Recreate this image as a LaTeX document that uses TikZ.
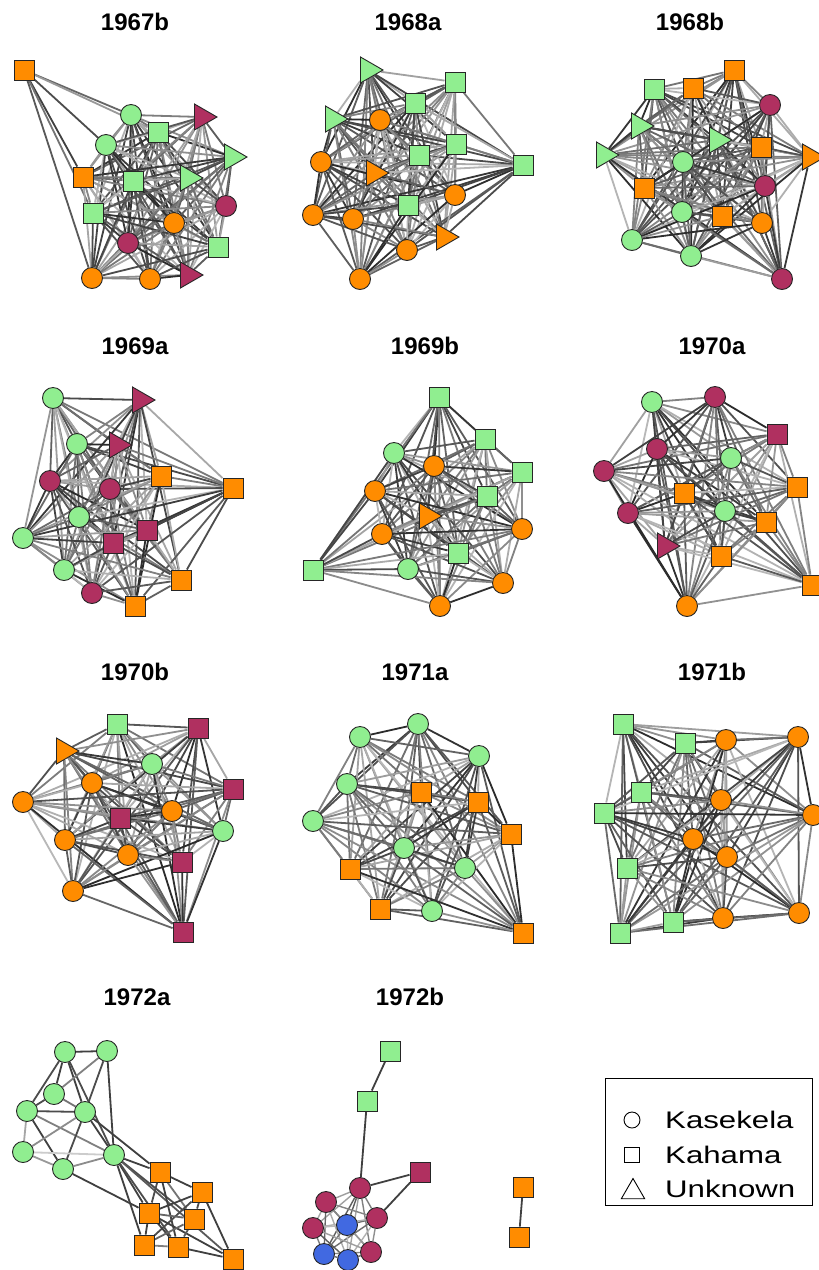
\documentclass[tikz,border=0pt]{standalone}
\usepackage{fontspec}
\setmainfont{Liberation Sans}
\usetikzlibrary{shapes.geometric}
\definecolor{gC}{HTML}{90EE90}
\definecolor{oC}{HTML}{FF8C00}
\definecolor{mC}{HTML}{B03060}
\definecolor{bC}{HTML}{4169E1}
\pgfdeclarelayer{bg}
\pgfsetlayers{bg,main}
\newcommand\netall[4]{%
  \pgfmathtruncatemacro\nlast{#3-1}%
  \foreach \i in {#2,...,\nlast}{%
    \pgfmathtruncatemacro\js{\i+1}%
    \foreach \j in {\js,...,#3}{%
      \pgfmathtruncatemacro\g{mod(\i*37+\j*53+#4*17,56)+28}%
      \draw[lnk,draw=black!\g] (#1\i) -- (#1\j);
    }}}
\tikzset{
  nd/.style={draw=black!85, line width=0.9pt, inner sep=0pt},
  cir/.style={nd, circle, minimum size=21pt},
  sqr/.style={nd, rectangle, minimum size=20pt},
  tri/.style={nd, regular polygon, regular polygon sides=3, minimum size=30pt, shape border rotate=-90},
  gc/.style={cir, fill=gC}, gs/.style={sqr, fill=gC}, gt/.style={tri, fill=gC},
  oc/.style={cir, fill=oC}, os/.style={sqr, fill=oC}, ot/.style={tri, fill=oC},
  mc/.style={cir, fill=mC}, ms/.style={sqr, fill=mC}, mt/.style={tri, fill=mC},
  bc/.style={cir, fill=bC},
  lnk/.style={line width=1.8pt},
  ttl/.style={font=\bfseries\fontsize{24}{28}\selectfont, inner sep=0pt},
  lgt/.style={font=\fontsize{24}{28}\selectfont, inner sep=0pt, anchor=west},
  lsym/.style={draw=black, line width=0.9pt, inner sep=0pt},
}
\begin{document}
\begin{tikzpicture}[x=1pt,y=-1pt]
\useasboundingbox (0,0) rectangle (819,1270);
% titles
\node[ttl] (t1) at (135,22) {1967b};
\node[ttl] (t2) at (408,22) {1968a};
\node[ttl] (t3) at (690,22) {1968b};
\node[ttl] (t4) at (135,346) {1969a};
\node[ttl] (t5) at (425,346) {1969b};
\node[ttl] (t6) at (712,346) {1970a};
\node[ttl] (t7) at (135,672) {1970b};
\node[ttl] (t8) at (415,672) {1971a};
\node[ttl] (t9) at (712,672) {1971b};
\node[ttl] (t10) at (137,997) {1972a};
\node[ttl] (t11) at (410,997) {1972b};
% panel 1
\node[os] (a1) at (24,70) {};
\node[gc] (a2) at (131,115) {};
\node[gs] (a3) at (158,132) {};
\node[mt] (a4) at (202,117) {};
\node[gc] (a5) at (106,145) {};
\node[gt] (a6) at (232,157) {};
\node[os] (a7) at (83,177) {};
\node[gs] (a8) at (133,181) {};
\node[gt] (a9) at (188,178) {};
\node[mc] (a10) at (226,206) {};
\node[gs] (a11) at (93,213) {};
\node[oc] (a12) at (174,223) {};
\node[mc] (a13) at (128,243) {};
\node[gs] (a14) at (218,247) {};
\node[oc] (a15) at (92,278) {};
\node[oc] (a16) at (150,279) {};
\node[mt] (a17) at (188,275) {};
% panel 2
\node[gt] (b1) at (368,70) {};
\node[gs] (b2) at (455,82) {};
\node[gs] (b3) at (415,103) {};
\node[gt] (b4) at (333,119) {};
\node[oc] (b5) at (380,120) {};
\node[oc] (b6) at (321,162) {};
\node[gs] (b7) at (419,155) {};
\node[gs] (b8) at (456,144) {};
\node[gs] (b9) at (523,165) {};
\node[ot] (b10) at (374,173) {};
\node[oc] (b11) at (455,195) {};
\node[oc] (b12) at (313,215) {};
\node[oc] (b13) at (353,219) {};
\node[gs] (b14) at (408,205) {};
\node[ot] (b15) at (444,237) {};
\node[oc] (b16) at (407,250) {};
\node[oc] (b17) at (360,279) {};
% panel 3
\node[os] (c1) at (734,70) {};
\node[gs] (c2) at (654,89) {};
\node[os] (c3) at (693,88) {};
\node[mc] (c4) at (770,105) {};
\node[gt] (c5) at (639,126) {};
\node[gt] (c6) at (604,155) {};
\node[gt] (c7) at (717,140) {};
\node[os] (c8) at (761,147) {};
\node[ot] (c9) at (810,157) {};
\node[gc] (c10) at (683,162) {};
\node[os] (c11) at (644,188) {};
\node[mc] (c12) at (765,186) {};
\node[gc] (c13) at (682,212) {};
\node[os] (c14) at (722,216) {};
\node[oc] (c15) at (762,223) {};
\node[gc] (c16) at (632,240) {};
\node[gc] (c17) at (691,256) {};
\node[mc] (c18) at (782,279) {};
% panel 4
\node[gc] (d1) at (53,398) {};
\node[mt] (d2) at (140,400) {};
\node[gc] (d3) at (77,444) {};
\node[mt] (d4) at (117,445) {};
\node[mc] (d5) at (50,481) {};
\node[mc] (d6) at (110,489) {};
\node[os] (d7) at (161,476) {};
\node[os] (d8) at (233,488) {};
\node[gc] (d9) at (79,517) {};
\node[ms] (d10) at (147,530) {};
\node[ms] (d11) at (113,543) {};
\node[gc] (d12) at (23,538) {};
\node[gc] (d13) at (64,570) {};
\node[os] (d14) at (181,580) {};
\node[mc] (d15) at (92,593) {};
\node[os] (d16) at (135,606) {};
% panel 5
\node[gs] (e1) at (439,397) {};
\node[gs] (e2) at (485,439) {};
\node[gc] (e3) at (394,453) {};
\node[oc] (e4) at (434,466) {};
\node[gs] (e5) at (522,472) {};
\node[oc] (e6) at (375,491) {};
\node[gs] (e7) at (487,496) {};
\node[ot] (e8) at (427,516) {};
\node[oc] (e9) at (382,534) {};
\node[oc] (e10) at (522,529) {};
\node[gs] (e11) at (458,553) {};
\node[gc] (e12) at (408,569) {};
\node[gs] (e13) at (313,570) {};
\node[oc] (e14) at (503,583) {};
\node[oc] (e15) at (440,606) {};
% panel 6
\node[gc] (f1) at (652,402) {};
\node[mc] (f2) at (715,397) {};
\node[ms] (f3) at (777,434) {};
\node[mc] (f4) at (657,449) {};
\node[gc] (f5) at (731,458) {};
\node[mc] (f6) at (604,471) {};
\node[os] (f7) at (684,493) {};
\node[os] (f8) at (797,487) {};
\node[mc] (f9) at (628,513) {};
\node[gc] (f10) at (725,511) {};
\node[os] (f11) at (766,522) {};
\node[mt] (f12) at (665,546) {};
\node[os] (f13) at (721,556) {};
\node[os] (f14) at (812,585) {};
\node[oc] (f15) at (687,606) {};
% panel 7
\node[gs] (g1) at (117,724) {};
\node[ms] (g2) at (198,728) {};
\node[ot] (g3) at (64,751) {};
\node[gc] (g4) at (152,764) {};
\node[oc] (g5) at (92,783) {};
\node[ms] (g6) at (233,789) {};
\node[oc] (g7) at (23,802) {};
\node[ms] (g8) at (120,818) {};
\node[oc] (g9) at (172,811) {};
\node[gc] (g10) at (223,831) {};
\node[oc] (g11) at (65,840) {};
\node[oc] (g12) at (128,855) {};
\node[ms] (g13) at (182,862) {};
\node[oc] (g14) at (73,891) {};
\node[ms] (g15) at (183,932) {};
% panel 8
\node[gc] (h1) at (418,724) {};
\node[gc] (h2) at (360,737) {};
\node[gc] (h3) at (479,756) {};
\node[gc] (h4) at (347,784) {};
\node[os] (h5) at (421,792) {};
\node[os] (h6) at (478,802) {};
\node[gc] (h7) at (313,821) {};
\node[os] (h8) at (511,834) {};
\node[gc] (h9) at (404,848) {};
\node[gc] (h10) at (465,868) {};
\node[os] (h11) at (350,869) {};
\node[os] (h12) at (380,909) {};
\node[gc] (h13) at (432,911) {};
\node[os] (h14) at (523,933) {};
% panel 9
\node[gs] (i1) at (623,724) {};
\node[gs] (i2) at (685,743) {};
\node[oc] (i3) at (726,740) {};
\node[oc] (i4) at (798,737) {};
\node[gs] (i5) at (641,792) {};
\node[oc] (i6) at (721,800) {};
\node[gs] (i7) at (604,813) {};
\node[oc] (i8) at (813,815) {};
\node[oc] (i9) at (693,839) {};
\node[oc] (i10) at (727,857) {};
\node[gs] (i11) at (627,868) {};
\node[oc] (i12) at (723,918) {};
\node[oc] (i13) at (799,913) {};
\node[gs] (i14) at (673,922) {};
\node[gs] (i15) at (620,933) {};
% panel 10
\node[gc] (j1) at (65,1052) {};
\node[gc] (j2) at (107,1051) {};
\node[gc] (j3) at (54,1094) {};
\node[gc] (j4) at (27,1111) {};
\node[gc] (j5) at (85,1112) {};
\node[gc] (j6) at (23,1152) {};
\node[gc] (j7) at (63,1169) {};
\node[gc] (j8) at (114,1155) {};
\node[os] (j9) at (160,1172) {};
\node[os] (j10) at (202,1192) {};
\node[os] (j11) at (149,1213) {};
\node[os] (j12) at (194,1219) {};
\node[os] (j13) at (144,1245) {};
\node[os] (j14) at (178,1247) {};
\node[os] (j15) at (233,1259) {};
% panel 11
\node[gs] (k1) at (390,1051) {};
\node[gs] (k2) at (367,1101) {};
\node[ms] (k3) at (420,1172) {};
\node[mc] (k4) at (360,1188) {};
\node[mc] (k5) at (326,1202) {};
\node[mc] (k6) at (377,1218) {};
\node[bc] (k7) at (347,1225) {};
\node[mc] (k8) at (313,1228) {};
\node[mc] (k9) at (371,1252) {};
\node[bc] (k10) at (324,1254) {};
\node[bc] (k11) at (348,1260) {};
\node[os] (k12) at (523,1187) {};
\node[os] (k13) at (519,1237) {};
% legend
\node[draw=black, line width=0.9pt, minimum width=207pt, minimum height=127pt, anchor=north west, inner sep=0pt] (leg) at (605,1078) {};
\node[lsym, circle, minimum size=16pt] (lc) at (632,1120) {};
\node[lsym, rectangle, minimum size=15pt] (ls) at (632,1155) {};
\node[lsym, regular polygon, regular polygon sides=3, minimum size=27pt] (lt) at (633,1192) {};
\node[lgt] (l1) at (665,1120) {\scalebox{1.3}[1]{Kasekela}};
\node[lgt] (l2) at (665,1155) {\scalebox{1.3}[1]{Kahama}};
\node[lgt] (l3) at (665,1189) {\scalebox{1.3}[1]{Unknown}};
% edges
\begin{pgfonlayer}{bg}
\fill[white] (0,0) rectangle (819,1270);
\foreach \t/\s in {2/60,3/40,5/70,7/75,11/55,15/65}{\draw[lnk,draw=black!\s] (a1) -- (a\t);}
\netall{a}{2}{17}{1}
\netall{b}{1}{17}{2}
\netall{c}{1}{18}{3}
\netall{d}{1}{16}{4}
\netall{e}{1}{15}{5}
\netall{f}{1}{15}{6}
\netall{g}{1}{15}{7}
\netall{h}{1}{14}{8}
\netall{i}{1}{15}{9}
\foreach \u/\v/\s in {1/2/75,1/3/75,1/4/70,1/5/75,1/8/70,2/3/50,2/5/70,2/8/75,3/4/70,3/5/55,4/5/70,4/6/35,4/7/75,4/8/50,5/6/45,5/7/70,5/8/75,6/7/40,6/8/20,7/8/45,8/9/75,8/11/75,8/12/70,8/13/75,8/14/70,8/15/65,5/9/75,7/11/75,9/10/75,9/11/70,9/12/55,9/14/75,10/11/75,10/12/70,10/13/70,10/15/75,11/12/60,11/13/75,11/14/75,11/15/75,12/13/60,12/14/65,13/14/50,14/15/75}{\draw[lnk,draw=black!\s] (j\u) -- (j\v);}
\foreach \u/\v in {1/2,2/4,3/4,3/6,12/13}{\draw[lnk,draw=black!75] (k\u) -- (k\v);}
\foreach \u in {4,...,10}{\pgfmathtruncatemacro\js{\u+1}\foreach \v in {\js,...,11}{\pgfmathtruncatemacro\g{mod(\u*37+\v*53,40)+25}\draw[line width=1.4pt,draw=black!\g] (k\u) -- (k\v);}}
\end{pgfonlayer}
\end{tikzpicture}
\end{document}
